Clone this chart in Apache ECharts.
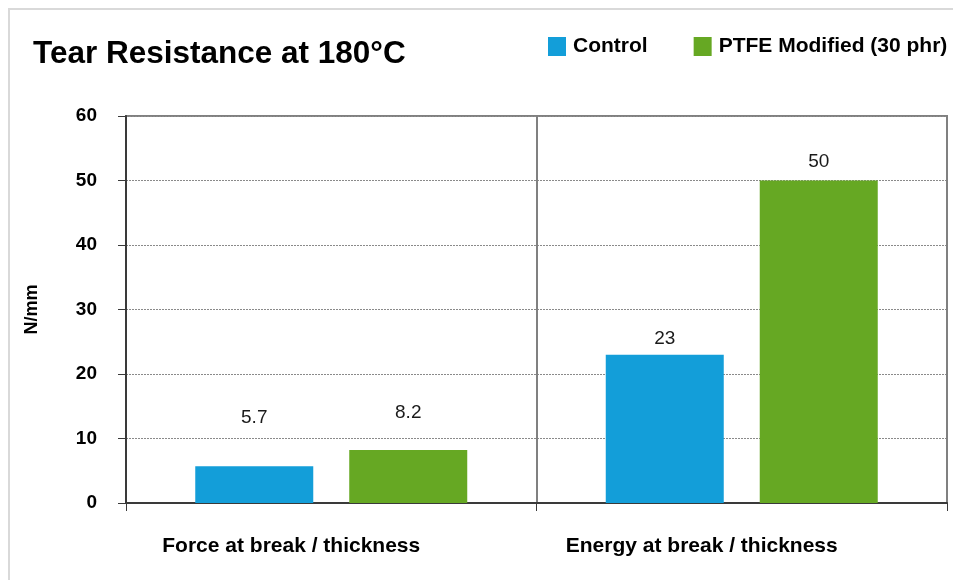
<!DOCTYPE html>
<html>
<head>
<meta charset="utf-8">
<script src="https://cdn.jsdelivr.net/npm/echarts@6/dist/echarts.min.js"></script>
<style>
  html, body { margin: 0; padding: 0; background: #fff; }
  #chart { width: 953px; height: 580px; }
</style>
</head>
<body>
<div id="chart"></div>
<script>
const categories = ["Force at break / thickness", "Energy at break / thickness"];
const controlValues = [5.7, 23];
const ptfeValues = [8.2, 50];
const yTicks = { min: 0, max: 60, interval: 10 };

// label gaps above bars (px), Excel placed them unevenly
const controlLabelGap = [39, 6];
const ptfeLabelGap = [28, 9];

const font = "'Liberation Sans', Arial, sans-serif";

function withLabels(values, gaps) {
  return values.map((v, i) => ({ value: v, label: { distance: gaps[i] } }));
}

const chart = echarts.init(document.getElementById("chart"));
chart.setOption({
  backgroundColor: "#fff",
  animation: false,
  textStyle: { fontFamily: font },
  title: {
    text: "Tear Resistance at 180°C",
    left: 33,
    top: 38,
    padding: 0,
    textStyle: { fontFamily: font, fontSize: 31.5, fontWeight: "bold", color: "#000" },
  },
  legend: {
    left: 548,
    top: 36,
    padding: 0,
    itemWidth: 18,
    itemHeight: 19,
    itemGap: 46,
    icon: "rect",
    textStyle: { fontFamily: font, fontSize: 21, fontWeight: "bold", color: "#000", padding: [0, 0, 0, 2] },
  },
  graphic: [
    {
      type: "rect",
      shape: { x: 9, y: 9, width: 1000, height: 1000 },
      style: { fill: "none", stroke: "#d9d9d9", lineWidth: 2 },
      silent: true,
    },
  ],
  grid: {
    left: 126,
    right: 6,
    top: 116,
    bottom: 77,
    show: true,
    borderColor: "#808080",
    borderWidth: 2,
  },
  xAxis: {
    type: "category",
    data: categories,
    boundaryGap: true,
    axisLine: { lineStyle: { color: "#3a3a3a", width: 2 } },
    axisTick: { show: true, interval: 0, length: 8, lineStyle: { color: "#3a3a3a", width: 1 } },
    axisLabel: {
      interval: 0,
      margin: 33,
      padding: [0, 80, 0, 0],
      fontFamily: font,
      fontSize: 21,
      fontWeight: "bold",
      color: "#000",
    },
    splitLine: { show: true, interval: 0, lineStyle: { color: "#808080", width: 2 } },
  },
  yAxis: {
    type: "value",
    min: yTicks.min,
    max: yTicks.max,
    interval: yTicks.interval,
    name: "N/mm",
    nameLocation: "middle",
    nameRotate: 90,
    nameGap: 85,
    nameTextStyle: { fontFamily: font, fontSize: 18, fontWeight: "bold", color: "#000" },
    axisLine: { show: true, lineStyle: { color: "#3a3a3a", width: 2 } },
    axisTick: { show: true, length: 8, lineStyle: { color: "#3a3a3a", width: 1 } },
    axisLabel: { margin: 29, fontFamily: font, fontSize: 19, fontWeight: "bold", color: "#000" },
    splitLine: { show: true, lineStyle: { color: "#8a8a8a", width: 1, type: [2, 1] } },
  },
  series: [
    {
      name: "Control",
      type: "bar",
      data: withLabels(controlValues, controlLabelGap),
      barWidth: 118,
      barGap: "30.5%",
      itemStyle: { color: "#139ed9" },
      label: { show: true, position: "top", fontFamily: font, fontSize: 19, color: "#1a1a1a" },
    },
    {
      name: "PTFE Modified (30 phr)",
      type: "bar",
      data: withLabels(ptfeValues, ptfeLabelGap),
      barWidth: 118,
      barGap: "30.5%",
      itemStyle: { color: "#66a823" },
      label: { show: true, position: "top", fontFamily: font, fontSize: 19, color: "#1a1a1a" },
    },
  ],
});
</script>
</body>
</html>
